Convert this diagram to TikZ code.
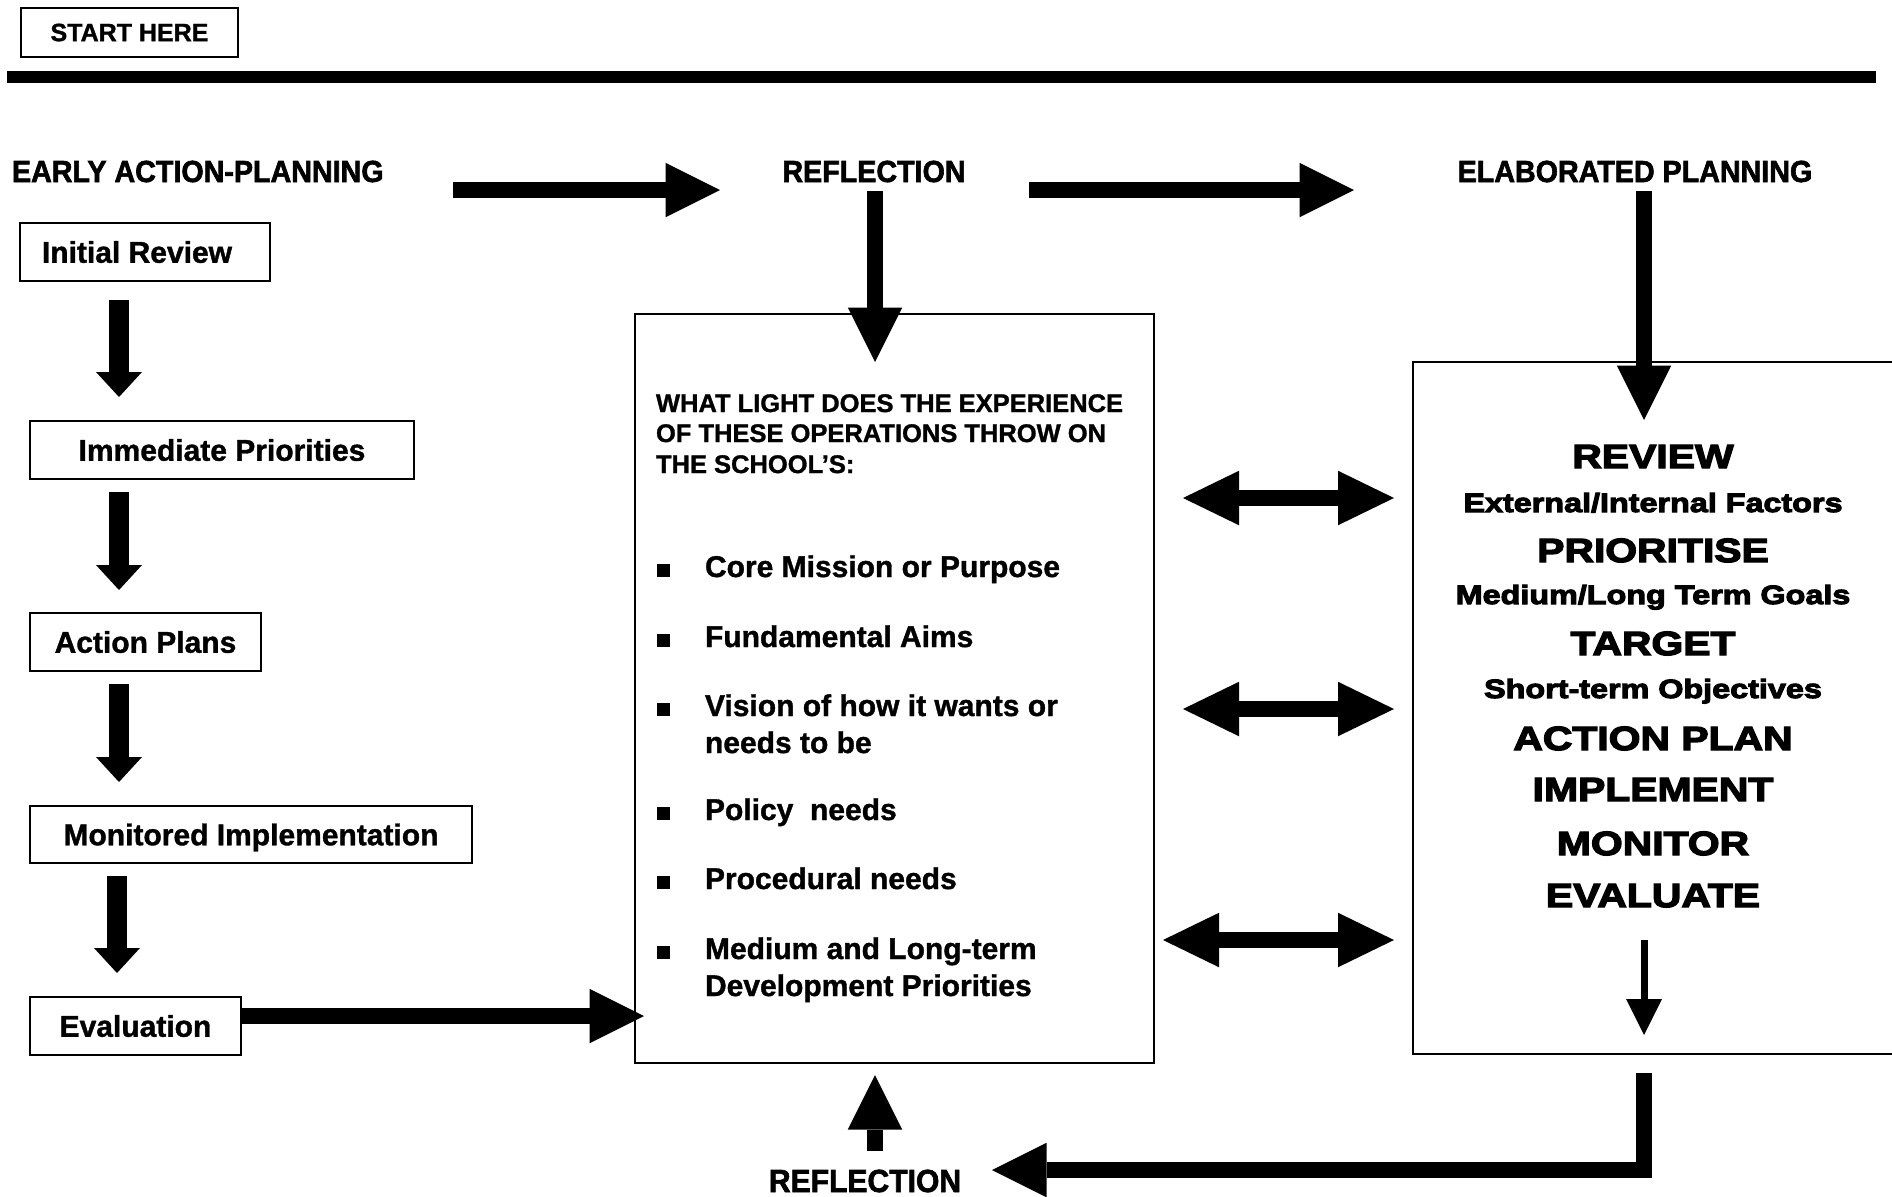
\documentclass[tikz,border=0pt]{standalone}
\usepackage{fontspec}
\setmainfont{Liberation Sans}[BoldFeatures={FakeBold=1.2}]
\newfontfamily\hfont{Liberation Sans}[FakeStretch=0.94,BoldFeatures={FakeBold=2}]
\newfontfamily\blk{Liberation Sans Bold}[FakeStretch=1.22,FakeBold=4]
\usetikzlibrary{arrows.meta}
\begin{document}
\begin{tikzpicture}[x=0.5pt,y=-0.5pt,
  every node/.style={inner sep=0pt,outer sep=0pt},
  lbox/.style={draw,line width=1pt,text height=10.74pt,text depth=0pt,font=\bfseries\fontsize{15pt}{18pt}\selectfont},
  head/.style={font=\hfont\bfseries\fontsize{15.25pt}{17pt}\selectfont},
  hdr/.style={anchor=base west,font=\bfseries\fontsize{12.75pt}{15pt}\selectfont},
  item/.style={anchor=base west,font=\bfseries\fontsize{15pt}{18pt}\selectfont},
  big/.style={anchor=base,font=\blk\fontsize{16.75pt}{20pt}\selectfont},
  small/.style={anchor=base,font=\blk\fontsize{13.25pt}{16pt}\selectfont},
  barrow/.style={line width=7.75pt,-{Triangle[length=27.25pt,width=27.25pt,line width=0pt]}},
  darrow/.style={line width=8pt,{Triangle[length=28pt,width=27.25pt,line width=0pt]}-{Triangle[length=28pt,width=27.25pt,line width=0pt]}},
  larrow/.style={line width=10pt,-{Triangle[length=12.5pt,width=23pt,line width=0pt]}},
  tarrow/.style={line width=3.5pt,-{Triangle[length=18pt,width=18pt,line width=0pt]}}
]
\useasboundingbox (0,0) rectangle (1892,1196);
\clip (0,0) rectangle (1892,1196);

% top
\node[draw,line width=1pt,minimum width=108.5pt,minimum height=24.5pt,
      font=\bfseries\fontsize{12.5pt}{15pt}\selectfont] (start) at (129.5,32.5) {START HERE};
\coordinate (ruleL) at (7,77);
\coordinate (ruleR) at (1876,77);
\draw[line width=6pt] (ruleL) -- (ruleR);

% headings
\node[head,anchor=base west] (early) at (12,182) {EARLY ACTION-PLANNING};
\node[head,anchor=base] (refl) at (874,182) {REFLECTION};
\node[head,anchor=base] (elab) at (1635,182) {ELABORATED PLANNING};
\node[anchor=base,font=\hfont\bfseries\fontsize{16pt}{18pt}\selectfont] (refl2) at (865,1192) {REFLECTION};

% left column boxes
\node[lbox,minimum width=125pt,minimum height=29pt] (init) at (145,252) {Initial Review\kern8pt};
\node[lbox,minimum width=192pt,minimum height=29pt] (imm) at (222,450) {Immediate Priorities};
\node[lbox,minimum width=115.5pt,minimum height=29pt] (act) at (145.5,642) {Action Plans};
\node[lbox,minimum width=221pt,minimum height=28.5pt] (mon) at (251,834.5) {Monitored Implementation};
\node[lbox,minimum width=105.5pt,minimum height=29pt] (eval) at (135.5,1026) {Evaluation};

% middle box
\node[draw,line width=1pt,minimum width=259.5pt,minimum height=374.5pt] (mid) at (894.5,688.5) {};
\node[hdr] (h1) at (656,412) {WHAT LIGHT DOES THE EXPERIENCE};
\node[hdr] (h2) at (656,442) {OF THESE OPERATIONS THROW ON};
\node[hdr] (h3) at (656,473) {THE SCHOOL’S:};

\node[item] (i1) at (657,577) {\rule{6.5pt}{6.5pt}\hspace{17.5pt}Core Mission or Purpose};
\node[item] (i2) at (657,647) {\rule{6.5pt}{6.5pt}\hspace{17.5pt}Fundamental Aims};
\node[item] (i3) at (657,716) {\rule{6.5pt}{6.5pt}\hspace{17.5pt}Vision of how it wants or};
\node[item] (i3b) at (705,753) {needs to be};
\node[item] (i4) at (657,820) {\rule{6.5pt}{6.5pt}\hspace{17.5pt}Policy\ \ needs};
\node[item] (i5) at (657,889) {\rule{6.5pt}{6.5pt}\hspace{17.5pt}Procedural needs};
\node[item] (i6) at (657,959) {\rule{6.5pt}{6.5pt}\hspace{17.5pt}Medium and Long-term};
\node[item] (i6b) at (705,996) {Development Priorities};

% right box
\node[draw,line width=1pt,minimum width=243.5pt,minimum height=346pt] (rbox) at (1656.5,708) {};
\node[big] (r1) at (1653,468) {REVIEW};
\node[small] (r2) at (1653,512) {External/Internal Factors};
\node[big] (r3) at (1653,562) {PRIORITISE};
\node[small] (r4) at (1653,604) {Medium/Long Term Goals};
\node[big] (r5) at (1653,655) {TARGET};
\node[small] (r6) at (1653,698) {Short-term Objectives};
\node[big] (r7) at (1653,750) {ACTION PLAN};
\node[big] (r8) at (1653,801) {IMPLEMENT};
\node[big] (r9) at (1653,855) {MONITOR};
\node[big] (r10) at (1653,907) {EVALUATE};

% connector coordinates
\coordinate (a1s) at (453,190);  \coordinate (a1e) at (720,190);
\coordinate (a2s) at (1029,190); \coordinate (a2e) at (1354,190);
\coordinate (a3s) at (875,191);  \coordinate (a3e) at (875,362);
\coordinate (a4s) at (1644,191); \coordinate (a4e) at (1644,420);
\coordinate (l1s) at (119,300);  \coordinate (l1e) at (119,397);
\coordinate (l2s) at (119,492);  \coordinate (l2e) at (119,590);
\coordinate (l3s) at (119,684);  \coordinate (l3e) at (119,782);
\coordinate (l4s) at (117,876);  \coordinate (l4e) at (117,973);
\coordinate (evs) at (241,1016); \coordinate (eve) at (644,1016);
\coordinate (d1l) at (1183,498); \coordinate (d1r) at (1394,498);
\coordinate (d2l) at (1183,709); \coordinate (d2r) at (1394,709);
\coordinate (d3l) at (1163,940); \coordinate (d3r) at (1394,940);
\coordinate (ts) at (1644,940);  \coordinate (te) at (1644,1035);
\coordinate (us) at (875,1151);  \coordinate (ue) at (875,1075);
\coordinate (bs) at (1644,1073); \coordinate (bc) at (1644,1170); \coordinate (be) at (992,1170);

\draw[barrow] (a1s) -- (a1e);
\draw[barrow] (a2s) -- (a2e);
\draw[barrow] (a3s) -- (a3e);
\draw[barrow] (a4s) -- (a4e);
\draw[larrow] (l1s) -- (l1e);
\draw[larrow] (l2s) -- (l2e);
\draw[larrow] (l3s) -- (l3e);
\draw[larrow] (l4s) -- (l4e);
\draw[barrow] (evs) -- (eve);
\draw[darrow] (d1l) -- (d1r);
\draw[darrow] (d2l) -- (d2r);
\draw[darrow] (d3l) -- (d3r);
\draw[tarrow] (ts) -- (te);
\draw[barrow] (us) -- (ue);
\draw[barrow,line join=miter] (bs) -- (bc) -- (be);
\end{tikzpicture}
\end{document}
